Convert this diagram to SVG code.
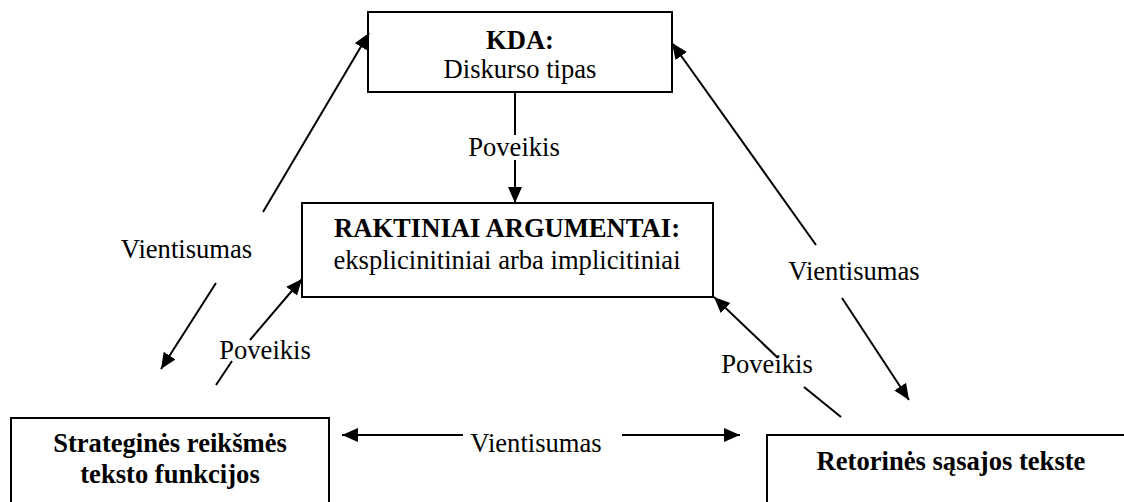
<svg xmlns="http://www.w3.org/2000/svg" width="1124" height="502" viewBox="0 0 1124 502">
<style>
.box{fill:#fff;stroke:#000;stroke-width:2}
.t{font-family:"Liberation Serif","Times New Roman",serif;font-size:26.6px;fill:#000;text-anchor:middle}
.b{font-weight:bold}
.c{stroke:#000;stroke-width:2;fill:none}
</style>
<defs>
<marker id="ah" markerUnits="userSpaceOnUse" markerWidth="17" markerHeight="15" refX="16" refY="7" orient="auto">
<path d="M0,0 L16,7 L0,14 z" fill="#000"/>
</marker>
</defs>
<rect width="1124" height="502" fill="#fff"/>
<g id="kda">
<rect class="box" x="368" y="12" width="304" height="80"/>
<text class="t b" x="520" y="49">KDA:</text>
<text class="t" x="520" y="78">Diskurso tipas</text>
</g>
<g id="raktiniai">
<rect class="box" x="302" y="203" width="411" height="94"/>
<text class="t b" x="507" y="237">RAKTINIAI ARGUMENTAI:</text>
<text class="t" x="507" y="269">eksplicinitiniai arba implicitiniai</text>
</g>
<g id="strategines">
<rect class="box" x="11" y="418" width="318" height="100"/>
<text class="t b" x="170" y="452">Strateginės reikšmės</text>
<text class="t b" x="170" y="483">teksto funkcijos</text>
</g>
<g id="retorines">
<rect class="box" x="767" y="435" width="380" height="100"/>
<text class="t b" x="951" y="470">Retorinės sąsajos tekste</text>
</g>
<g id="connectors">
<line class="c" x1="515" y1="92" x2="515" y2="135"/>
<line class="c" x1="515" y1="160" x2="515" y2="203" marker-end="url(#ah)"/>
<text class="t" x="514" y="156">Poveikis</text>
<line class="c" x1="263" y1="212" x2="369" y2="33" marker-end="url(#ah)"/>
<text class="t" x="186.5" y="258">Vientisumas</text>
<line class="c" x1="216" y1="283" x2="161" y2="369" marker-end="url(#ah)"/>
<line class="c" x1="216" y1="385" x2="232" y2="361"/>
<line class="c" x1="250" y1="340" x2="302" y2="279" marker-end="url(#ah)"/>
<text class="t" x="265" y="359">Poveikis</text>
<line class="c" x1="816" y1="245" x2="672" y2="43" marker-end="url(#ah)"/>
<text class="t" x="854" y="280">Vientisumas</text>
<line class="c" x1="842" y1="298" x2="909" y2="400" marker-end="url(#ah)"/>
<line class="c" x1="841" y1="417" x2="804" y2="387"/>
<line class="c" x1="778" y1="358" x2="714" y2="297" marker-end="url(#ah)"/>
<text class="t" x="767" y="373">Poveikis</text>
<line class="c" x1="463" y1="435" x2="342" y2="435" marker-end="url(#ah)"/>
<line class="c" x1="622" y1="435" x2="740" y2="435" marker-end="url(#ah)"/>
<text class="t" x="536" y="452">Vientisumas</text>
</g>
</svg>
